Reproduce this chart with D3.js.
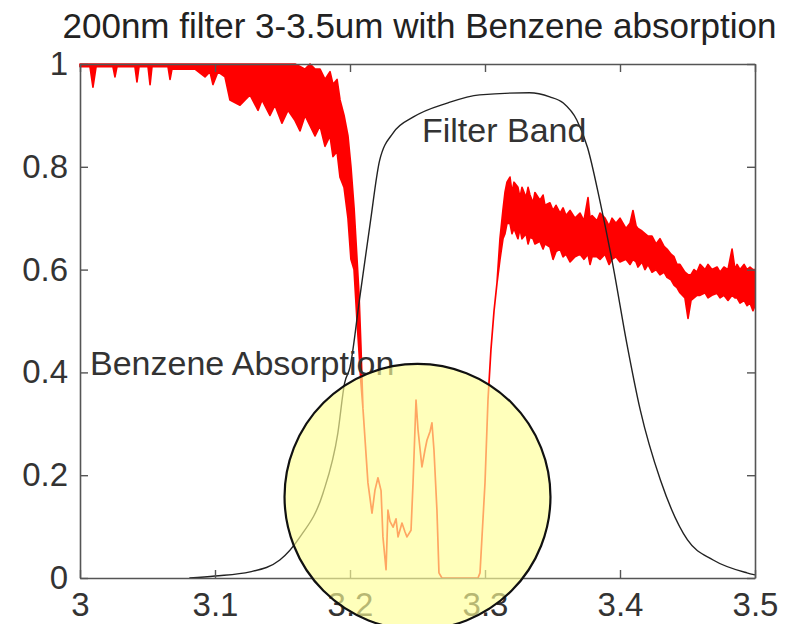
<!DOCTYPE html>
<html lang='en'>
<head>
  <title>Filter band with benzene absorption</title>
  <script src='https://cdn.jsdelivr.net/npm/d3@7/dist/d3.min.js'></script>
  <style>
    body { margin: 0; background: #fff; }
    text { font-family: "Liberation Sans", Arial, sans-serif; }
  </style>
</head>
<body>
  <script>
    // filter transmission (black curve)
    let filterWl = [3.081, 3.1, 3.126, 3.148, 3.163, 3.18, 3.191, 3.196, 3.2, 3.207, 3.215, 3.222,
      3.232, 3.247, 3.272, 3.296, 3.333, 3.348, 3.358, 3.368, 3.376, 3.385, 3.395, 3.405,
      3.415, 3.43, 3.45, 3.469, 3.494, 3.5];
    let filterT = [0, 0.004, 0.012, 0.035, 0.08, 0.165, 0.282, 0.379, 0.41, 0.541, 0.691, 0.813,
      0.866, 0.897, 0.924, 0.94, 0.944, 0.936, 0.924, 0.891, 0.837, 0.735, 0.605, 0.457,
      0.327, 0.19, 0.074, 0.035, 0.01, 0.006];

    // benzene transmission (red, noisy) read as upper / lower edge of the band
    let benzWl = [3.0, 3.0074, 3.0096, 3.0119, 3.0244, 3.0259, 3.0274, 3.0407, 3.0422, 3.0437,
      3.0504, 3.0519, 3.0533, 3.0652, 3.0667, 3.0681, 3.0852, 3.0926, 3.0963, 3.0985,
      3.1022, 3.1074, 3.1111, 3.1185, 3.1259, 3.1319, 3.1348, 3.1407, 3.1444, 3.1496,
      3.1541, 3.1593, 3.163, 3.1667, 3.1704, 3.1741, 3.1778, 3.1815, 3.1852, 3.1874,
      3.1904, 3.1926, 3.1956, 3.1985, 3.2007, 3.203, 3.2052, 3.2067, 3.2081, 3.2096,
      3.2133, 3.2163, 3.2185, 3.2207, 3.223, 3.2244, 3.2267, 3.2281, 3.2296, 3.2319,
      3.2341, 3.2356, 3.2385, 3.2407, 3.2422, 3.2452, 3.2467, 3.2489, 3.2504, 3.2533,
      3.2556, 3.257, 3.2593, 3.2607, 3.2622, 3.2644, 3.2659, 3.2681, 3.2948, 3.2963,
      3.3, 3.3022, 3.3044, 3.3067, 3.3089, 3.3111, 3.3133, 3.3148, 3.3163, 3.3185,
      3.32, 3.3215, 3.3244, 3.3259, 3.3274, 3.3304, 3.3319, 3.3333, 3.3356, 3.337,
      3.3407, 3.343, 3.3444, 3.3481, 3.3504, 3.3526, 3.3556, 3.3578, 3.36, 3.363,
      3.3667, 3.3704, 3.3733, 3.3763, 3.3778, 3.3793, 3.383, 3.3852, 3.3889, 3.3919,
      3.3941, 3.397, 3.4, 3.4044, 3.4074, 3.4096, 3.4119, 3.4133, 3.4163, 3.4185,
      3.4207, 3.4237, 3.4267, 3.4296, 3.4326, 3.4348, 3.4378, 3.44, 3.4422, 3.4444,
      3.4481, 3.4504, 3.4526, 3.4548, 3.457, 3.4593, 3.463, 3.4652, 3.4681, 3.4719,
      3.4741, 3.477, 3.48, 3.483, 3.4852, 3.4867, 3.4889, 3.4919, 3.4941, 3.4963,
      3.4985, 3.5];
    let benzHi = [1, 1, 1, 1, 1, 1, 1, 1, 1, 1,
      1, 1, 1, 1, 1, 1, 1, 1, 1, 1,
      1, 1, 1, 1, 1, 1, 1, 1, 1, 1,
      1, 1, 0.995, 0.99, 1, 0.99, 0.99, 0.97, 0.985, 0.96,
      0.97, 0.93, 0.9, 0.86, 0.8, 0.72, 0.62, 0.55, 0.45, 0.33,
      0.185, 0.126, 0.171, 0.195, 0.17, 0.08, 0.016, 0.132, 0.11, 0.099,
      0.115, 0.08, 0.107, 0.09, 0.08, 0.093, 0.185, 0.346, 0.288, 0.216,
      0.25, 0.268, 0.285, 0.302, 0.249, 0.132, 0.01, 0, 0, 0.01,
      0.185, 0.346, 0.444, 0.52, 0.574, 0.66, 0.716, 0.75, 0.77, 0.78,
      0.75, 0.77, 0.76, 0.74, 0.76, 0.74, 0.76, 0.745, 0.73, 0.75,
      0.735, 0.745, 0.725, 0.73, 0.715, 0.725, 0.71, 0.72, 0.705, 0.715,
      0.7, 0.71, 0.695, 0.74, 0.7, 0.705, 0.695, 0.71, 0.7, 0.685,
      0.7, 0.69, 0.7, 0.68, 0.69, 0.715, 0.685, 0.68, 0.675, 0.67,
      0.665, 0.665, 0.65, 0.66, 0.645, 0.64, 0.63, 0.625, 0.61, 0.61,
      0.595, 0.59, 0.59, 0.6, 0.595, 0.61, 0.6, 0.61, 0.6, 0.605,
      0.595, 0.605, 0.6, 0.64, 0.6, 0.61, 0.6, 0.61, 0.6, 0.605,
      0.6, 0.6];
    let benzLo = [0.995, 0.995, 0.955, 0.995, 0.995, 0.975, 0.995, 0.995, 0.965, 0.995,
      0.995, 0.96, 0.995, 0.995, 0.97, 0.99, 0.99, 0.975, 0.985, 0.96,
      0.985, 0.975, 0.93, 0.92, 0.94, 0.91, 0.93, 0.9, 0.92, 0.885,
      0.91, 0.89, 0.87, 0.9, 0.88, 0.86, 0.88, 0.84, 0.86, 0.82,
      0.83, 0.78, 0.76, 0.7, 0.62, 0.6, 0.5, 0.44, 0.38, 0.33,
      0.185, 0.126, 0.171, 0.195, 0.17, 0.08, 0.016, 0.132, 0.11, 0.099,
      0.115, 0.08, 0.107, 0.09, 0.08, 0.093, 0.185, 0.346, 0.288, 0.216,
      0.25, 0.268, 0.285, 0.302, 0.249, 0.132, 0.01, 0, 0, 0.01,
      0.185, 0.346, 0.444, 0.52, 0.574, 0.62, 0.66, 0.67, 0.69, 0.69,
      0.67, 0.68, 0.66, 0.68, 0.66, 0.67, 0.65, 0.663, 0.66, 0.65,
      0.655, 0.64, 0.65, 0.644, 0.62, 0.635, 0.64, 0.625, 0.63, 0.615,
      0.625, 0.63, 0.62, 0.63, 0.61, 0.625, 0.625, 0.62, 0.63, 0.61,
      0.62, 0.625, 0.615, 0.62, 0.61, 0.62, 0.615, 0.605, 0.615, 0.6,
      0.61, 0.595, 0.6, 0.59, 0.595, 0.585, 0.58, 0.57, 0.565, 0.555,
      0.545, 0.505, 0.54, 0.545, 0.55, 0.55, 0.555, 0.545, 0.55, 0.554,
      0.545, 0.55, 0.54, 0.55, 0.545, 0.545, 0.535, 0.54, 0.53, 0.535,
      0.52, 0.53];

    let xTicks = [3, 3.1, 3.2, 3.3, 3.4, 3.5];
    let yTicks = [0, 0.2, 0.4, 0.6, 0.8, 1];
    let xTickLabels = ["3", "3.1", "3.2", "3.3", "3.4", "3.5"];
    let yTickLabels = ["0", "0.2", "0.4", "0.6", "0.8", "1"];

    // highlight circle (centre in data units, radius in wavelength units)
    let highlight = { wl: 3.25, t: 0.158, r: 0.0985 };

    let width = 792, height = 624;
    let plot = { left: 80, right: 755, top: 64, bottom: 578 };

    let svg = d3.select("body").append("svg")
      .attr("width", width)
      .attr("height", height);

    let xScale = d3.scaleLinear().domain([3, 3.5]).range([plot.left, plot.right]);
    let yScale = d3.scaleLinear().domain([0, 1]).range([plot.bottom, plot.top]);

    // title
    svg.append("text")
      .attr("x", (plot.left + plot.right) / 2 + 2)
      .attr("y", 38)
      .attr("text-anchor", "middle")
      .attr("font-size", 35)
      .attr("fill", "#222")
      .text("200nm filter 3-3.5um with Benzene absorption");

    // red benzene band
    let benz = benzWl.map((w, i) => ({ wl: w, hi: benzHi[i], lo: benzLo[i] }));
    let area = d3.area()
      .x(d => xScale(d.wl))
      .y0(d => yScale(d.lo))
      .y1(d => yScale(d.hi));
    svg.append("path")
      .attr("d", area(benz))
      .attr("fill", "#ff0000")
      .attr("stroke", "#ff0000")
      .attr("stroke-width", 1.7)
      .attr("stroke-linejoin", "round");

    // filter band
    let filter = filterWl.map((w, i) => ({ wl: w, t: filterT[i] }));
    let line = d3.line()
      .x(d => xScale(d.wl))
      .y(d => yScale(d.t))
      .curve(d3.curveMonotoneX);
    svg.append("path")
      .attr("d", line(filter))
      .attr("fill", "none")
      .attr("stroke", "#222")
      .attr("stroke-width", 1.4);

    // axes, MATLAB style box with inward ticks
    let axisColor = "#555";
    let bottomAxis = d3.axisBottom(xScale).tickValues(xTicks)
      .tickFormat((d, i) => xTickLabels[i]).tickSizeInner(-8).tickSizeOuter(0).tickPadding(15);
    let leftAxis = d3.axisLeft(yScale).tickValues(yTicks)
      .tickFormat((d, i) => yTickLabels[i]).tickSizeInner(-8).tickSizeOuter(0).tickPadding(12);
    let topAxis = d3.axisTop(xScale).tickValues(xTicks).tickFormat("").tickSizeInner(-8).tickSizeOuter(0);
    let rightAxis = d3.axisRight(yScale).tickValues(yTicks).tickFormat("").tickSizeInner(-8).tickSizeOuter(0);

    let axes = [
      [bottomAxis, `translate(0, ${plot.bottom})`],
      [leftAxis, `translate(${plot.left}, 0)`],
      [topAxis, `translate(0, ${plot.top})`],
      [rightAxis, `translate(${plot.right}, 0)`]
    ];
    axes.forEach(([ax, tr]) => {
      let g = svg.append("g").attr("transform", tr).call(ax);
      g.select(".domain").attr("stroke", axisColor).attr("stroke-width", 1.6);
      g.selectAll(".tick line").attr("stroke", axisColor).attr("stroke-width", 1.4);
      g.selectAll(".tick text")
        .attr("font-size", 33)
        .attr("font-family", "Liberation Sans, Arial, sans-serif")
        .attr("fill", "#333");
    });

    // text labels
    svg.append("text")
      .attr("x", xScale(3.2533))
      .attr("y", yScale(0.848))
      .attr("font-size", 34)
      .attr("fill", "#333")
      .text("Filter Band");
    svg.append("text")
      .attr("x", xScale(3.0074))
      .attr("y", yScale(0.395))
      .attr("font-size", 34)
      .attr("fill", "#333")
      .text("Benzene Absorption");

    // yellow highlight circle on top
    let r = xScale(3 + highlight.r) - xScale(3);
    svg.append("circle")
      .attr("cx", xScale(highlight.wl))
      .attr("cy", yScale(highlight.t))
      .attr("r", r)
      .attr("fill", "#ffff96")
      .attr("fill-opacity", 0.65)
      .attr("stroke", "#111")
      .attr("stroke-width", 2.2);
  </script>
</body>
</html>
